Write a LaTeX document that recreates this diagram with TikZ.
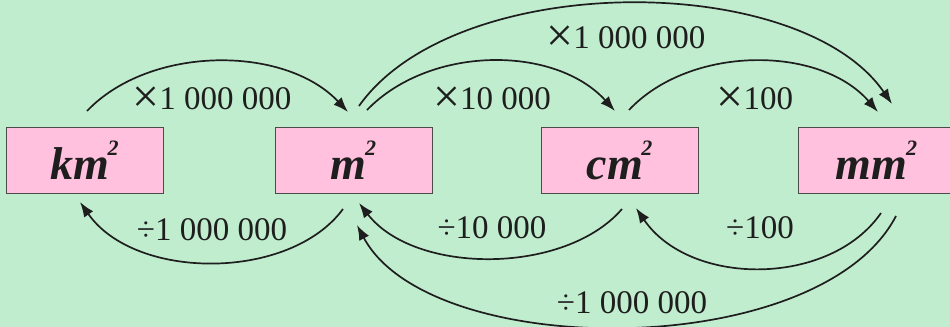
\documentclass[tikz,border=0pt]{standalone}
\usepackage{fontspec}
\setmainfont{Liberation Serif}
\usetikzlibrary{arrows.meta}
\definecolor{bggreen}{RGB}{193,237,207}
\definecolor{boxpink}{RGB}{255,193,221}
\definecolor{inkdark}{RGB}{30,30,30}
\newcommand{\sqsup}{\kern-0.03em\raisebox{0.52em}{\fontsize{11}{11}\selectfont 2}}
\newcommand{\bigtimes}{\raisebox{-0.1em}{\scalebox{1.45}{×}}}
\tikzset{
  unitbox/.style={draw=inkdark!80, line width=0.5pt, fill=boxpink, minimum width=78.5pt, minimum height=33pt, inner sep=0pt,
    font=\fontsize{23}{26}\selectfont\bfseries\itshape, text=inkdark},
  conv/.style={draw=inkdark, line width=0.85pt, -{Latex[length=7.5pt,width=5.5pt]}},
  convlabel/.style={font=\fontsize{16.5}{18}\selectfont, text=inkdark, inner sep=0pt}
}
\begin{document}
\begin{tikzpicture}[x=0.5pt,y=-0.5pt]
\fill[bggreen] (0,0) rectangle (950,327);
\useasboundingbox (0,0) rectangle (950,327);

\node[unitbox] (km) at (84.5,160) {km\sqsup};
\node[unitbox] (m)  at (353.5,160) {m\sqsup};
\node[unitbox] (cm) at (619.5,160) {cm\sqsup};
\node[unitbox] (mm) at (876.5,160) {mm\sqsup};

% named end points of the connectors
\coordinate (kmT) at (87,111);
\coordinate (mIn1) at (348,112);
\coordinate (mOutA) at (359,106);
\coordinate (mOutB) at (367,110);
\coordinate (cmIn) at (615,111);
\coordinate (cmOut) at (629,110);
\coordinate (mmIn1) at (878,112);
\coordinate (mmIn2) at (892,104);

\coordinate (mB) at (343,209);
\coordinate (kmB) at (80,202);
\coordinate (cmB) at (622,209);
\coordinate (mBin1) at (359,203);
\coordinate (mmB1) at (881,213);
\coordinate (cmBin) at (636,208);
\coordinate (mmB2) at (896,216);
\coordinate (mBin2) at (357,225);

% multiply arrows (top)
\draw[conv] (kmT) .. controls (150,45) and (285,45) .. (mIn1);
\draw[conv] (mOutB) .. controls (430,45) and (555,45) .. (cmIn);
\draw[conv] (mOutA) .. controls (455,-30) and (800,-30) .. (mmIn2);
\draw[conv] (cmOut) .. controls (690,45) and (820,45) .. (mmIn1);

% divide arrows (bottom)
\draw[conv] (mB) .. controls (290,281) and (135,281) .. (kmB);
\draw[conv] (cmB) .. controls (565,275) and (415,275) .. (mBin1);
\draw[conv] (mmB1) .. controls (830,287) and (690,287) .. (cmBin);
\draw[conv] (mmB2) .. controls (820,362) and (430,362) .. (mBin2);

\node[convlabel] (l1) at (212,100) {\bigtimes1 000 000};
\node[convlabel] (l2) at (492,100) {\bigtimes10 000};
\node[convlabel] (l3) at (626,39) {\bigtimes1 000 000};
\node[convlabel] (l4) at (755,100) {\bigtimes100};
\node[convlabel] (l5) at (212,230) {÷1 000 000};
\node[convlabel] (l6) at (492,228) {÷10 000};
\node[convlabel] (l7) at (760,228) {÷100};
\node[convlabel] (l8) at (632,303) {÷1 000 000};
\end{tikzpicture}
\end{document}
